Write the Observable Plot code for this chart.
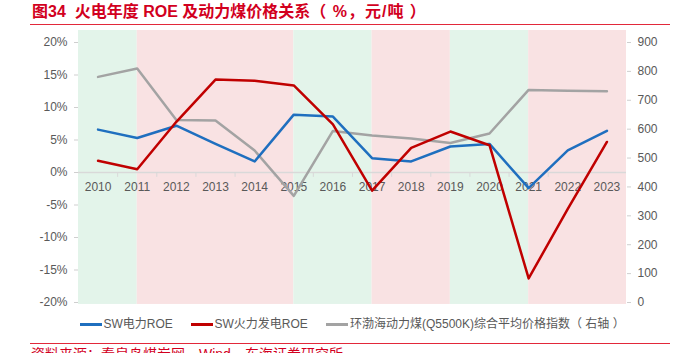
<!DOCTYPE html>
<html><head><meta charset="utf-8">
<script src="https://cdn.jsdelivr.net/npm/d3@7"></script>
<script src="https://cdn.jsdelivr.net/npm/@observablehq/plot@0.6"></script>
<style>
body{margin:0;width:690px;height:353px;overflow:hidden;background:#fff;position:relative;font-family:"Liberation Sans","Noto Sans CJK SC",sans-serif;}
#title{position:absolute;left:32px;top:2px;font-size:16px;font-weight:bold;color:#d2001e;white-space:nowrap;line-height:20px;}
#title .u{letter-spacing:1px;}
#tline{position:absolute;left:30px;top:23.5px;width:640px;height:1.5px;background:#e2283a;}
#chart{position:absolute;left:0;top:28px;}
.lg{position:absolute;top:317px;font-size:12px;color:#595959;white-space:nowrap;line-height:14px;}
.sw{position:absolute;top:323px;height:2.5px;width:22px;}
#bline{position:absolute;left:30px;top:342.5px;width:640px;height:1.5px;background:#e2283a;}
#src{position:absolute;left:31px;top:346px;font-size:14px;color:#d2001e;white-space:nowrap;line-height:16px;}
</style></head>
<body>
<div id="title">图34&nbsp;&nbsp;火电年度 ROE 及动力煤价格关系<span class="u">（ %，元/吨 ）</span></div>
<div id="tline"></div>
<div id="chart"></div>
<div id="legend"></div>
<div id="bline"></div>
<div id="src">资料来源：秦皇岛煤炭网，Wind，东海证券研究所</div>
<script>
const years = [2010,2011,2012,2013,2014,2015,2016,2017,2018,2019,2020,2021,2022,2023];
const swPowerROE = [6.6,5.3,7.2,4.4,1.7,8.9,8.6,2.2,1.7,4.0,4.4,-2.4,3.4,6.4];
const swThermalROE = [1.8,0.5,7.8,14.3,14.1,13.4,7.4,-2.8,3.8,6.3,4.2,-16.3,-5.6,4.7];
const coalPrice = [781,810,632,630,526,369,594,578,568,552,585,736,733,731];
const leftTicks = [-20,-15,-10,-5,0,5,10,15,20];
const rightTicks = [0,100,200,300,400,500,600,700,800,900];
const phaseStart = [2009.5,2011,2015,2017,2019,2021];
const phaseEnd = [2011,2015,2017,2019,2021,2023.5];
const phaseColor = ["#e3f4ea","#f9e2e3","#e3f4ea","#f9e2e3","#e3f4ea","#f9e2e3"];
const seriesNames = ["SW电力ROE","SW火力发电ROE","环渤海动力煤(Q5500K)综合平均价格指数（ 右轴 ）"];
const seriesColors = ["#1f6fbf","#c00000","#a3a3a3"];

const toLeft = v => (v - 450) / 22.5;
const fromLeft = d => Math.round(d * 22.5 + 450);
const phases = phaseStart.map((s,i)=>({s, e: phaseEnd[i], c: phaseColor[i]}));
const halfYears = years.slice(0,-1).map(y=>y+0.5);

const chart = Plot.plot({
  width: 690, height: 282,
  marginLeft: 78, marginRight: 64, marginTop: 14, marginBottom: 8,
  x: {domain: [2009.5, 2023.5], axis: null},
  y: {domain: [-20, 20], axis: null},
  style: {fontFamily: '"Liberation Sans","Noto Sans CJK SC",sans-serif', fontSize: "12px", color: "#595959", background: "transparent"},
  marks: [
    Plot.rect(phases, {x1: "s", x2: "e", y1: -20.3, y2: 21.85, fill: d => d.c}),
    Plot.ruleY([0], {stroke: "#d9d9d9", strokeWidth: 1.5}),
    Plot.ruleX(halfYears, {x: d => d, y1: 0, y2: -0.75, stroke: "#d9d9d9"}),
    Plot.text(years, {x: d => d, y: 0, dy: 15, text: d => String(d), fill: "#595959", fontSize: 12}),
    Plot.axisY(leftTicks, {anchor: "left", tickSize: 4, tickPadding: 7, tickFormat: d => d + "%", stroke: "#cfcfcf", fill: "#595959", label: null, fontSize: 12}),
    Plot.axisY(rightTicks.map(toLeft), {anchor: "right", tickSize: 4, tickPadding: 7, tickFormat: fromLeft, stroke: "#cfcfcf", fill: "#595959", label: null, fontSize: 12}),
    Plot.line(coalPrice, {x: (d,i) => years[i], y: d => toLeft(d), stroke: seriesColors[2], strokeWidth: 2.5}),
    Plot.line(swPowerROE, {x: (d,i) => years[i], y: d => d, stroke: seriesColors[0], strokeWidth: 2.5}),
    Plot.line(swThermalROE, {x: (d,i) => years[i], y: d => d, stroke: seriesColors[1], strokeWidth: 2.5})
  ]
});
document.getElementById("chart").appendChild(chart);

const legend = document.getElementById("legend");
const swX = [79.5, 190.5, 326];
seriesNames.forEach((n,i)=>{
  const s = document.createElement("div"); s.className="sw"; s.style.left = swX[i]+"px"; s.style.background = seriesColors[i];
  const t = document.createElement("div"); t.className="lg"; t.style.left = (swX[i]+24)+"px"; t.textContent = n;
  legend.appendChild(s); legend.appendChild(t);
});
</script>
</body></html>
